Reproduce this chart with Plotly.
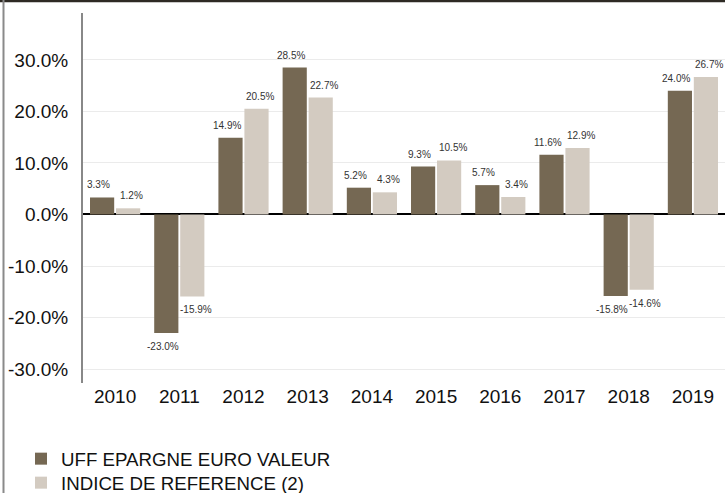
import plotly.graph_objects as go

years = ["2010", "2011", "2012", "2013", "2014", "2015", "2016", "2017", "2018", "2019"]
fund = [3.3, -23.0, 14.9, 28.5, 5.2, 9.3, 5.7, 11.6, -15.8, 24.0]
index = [1.2, -15.9, 20.5, 22.7, 4.3, 10.5, 3.4, 12.9, -14.6, 26.7]
tick_vals = [-30, -20, -10, 0, 10, 20, 30]
tick_text = ["-30.0%", "-20.0%", "-10.0%", "0.0%", "10.0%", "20.0%", "30.0%"]

W, H = 725, 493
L, R, T, B = 83, 0, 13, 110
pw, ph = W - L - R, H - T - B

def px(x):
    return (x - L) / pw

def py(y):
    return (H - B - y) / ph

FONT = "Liberation Sans, Arial"

fig = go.Figure()
fig.add_trace(go.Bar(
    x=years, y=fund, name="UFF EPARGNE EURO VALEUR",
    marker=dict(color="#756853", line=dict(width=0)),
    legend="legend",
))
fig.add_trace(go.Bar(
    x=years, y=index, name="INDICE DE REFERENCE (2)",
    marker=dict(color="#d3cbc1", line=dict(width=0)),
    legend="legend2",
))

# value labels, placed through the axes (category index on x)
for vals, xs in ((fund, -16.5), (index, 16.5)):
    for i, v in enumerate(vals):
        fig.add_annotation(
            x=i, y=v, xref="x", yref="y", text=f"{v:.1f}%", showarrow=False,
            xanchor="center", yanchor="middle", xshift=xs,
            yshift=12.5 if v >= 0 else -13.5,
            font=dict(size=10, color="#333333", family=FONT),
        )

leg_common = dict(orientation="v", xanchor="left", yanchor="top",
                  font=dict(size=18.7, color="#111111", family=FONT),
                  bgcolor="rgba(0,0,0,0)", itemclick=False, itemdoubleclick=False)

fig.update_layout(
    width=W, height=H,
    margin=dict(l=L, r=R, t=T, b=B, autoexpand=False),
    paper_bgcolor="white", plot_bgcolor="white",
    barmode="group", bargap=0.19, bargroupgap=0.07,
    font=dict(family=FONT, color="#111111"),
    showlegend=True,
    legend=dict(x=px(21), y=py(440), **leg_common),
    legend2=dict(x=px(21), y=py(464), **leg_common),
)
fig.update_xaxes(
    type="category", showline=False, showgrid=False, ticks="",
    range=[-0.5, len(years) - 0.5],
    tickfont=dict(size=19, color="#111111"), fixedrange=True,
)
fig.update_yaxes(
    range=[-32.7, 39.1], tickvals=tick_vals, ticktext=tick_text,
    showgrid=True, gridcolor="#ebebeb", gridwidth=1,
    zeroline=True, zerolinecolor="#000000", zerolinewidth=1.5,
    showline=True, linecolor="#888888", linewidth=2,
    tickfont=dict(size=19, color="#111111"), ticks="", ticklabelstandoff=9,
    fixedrange=True,
)

# frame lines (top and left)
fig.add_shape(type="line", xref="paper", yref="paper",
              x0=px(0), x1=px(W), y0=py(1), y1=py(1),
              line=dict(color="#2e2a24", width=2.5))
fig.add_shape(type="line", xref="paper", yref="paper",
              x0=px(3.5), x1=px(3.5), y0=py(0), y1=py(H),
              line=dict(color="#8a8a8a", width=2))

fig.write_html("out.html")
